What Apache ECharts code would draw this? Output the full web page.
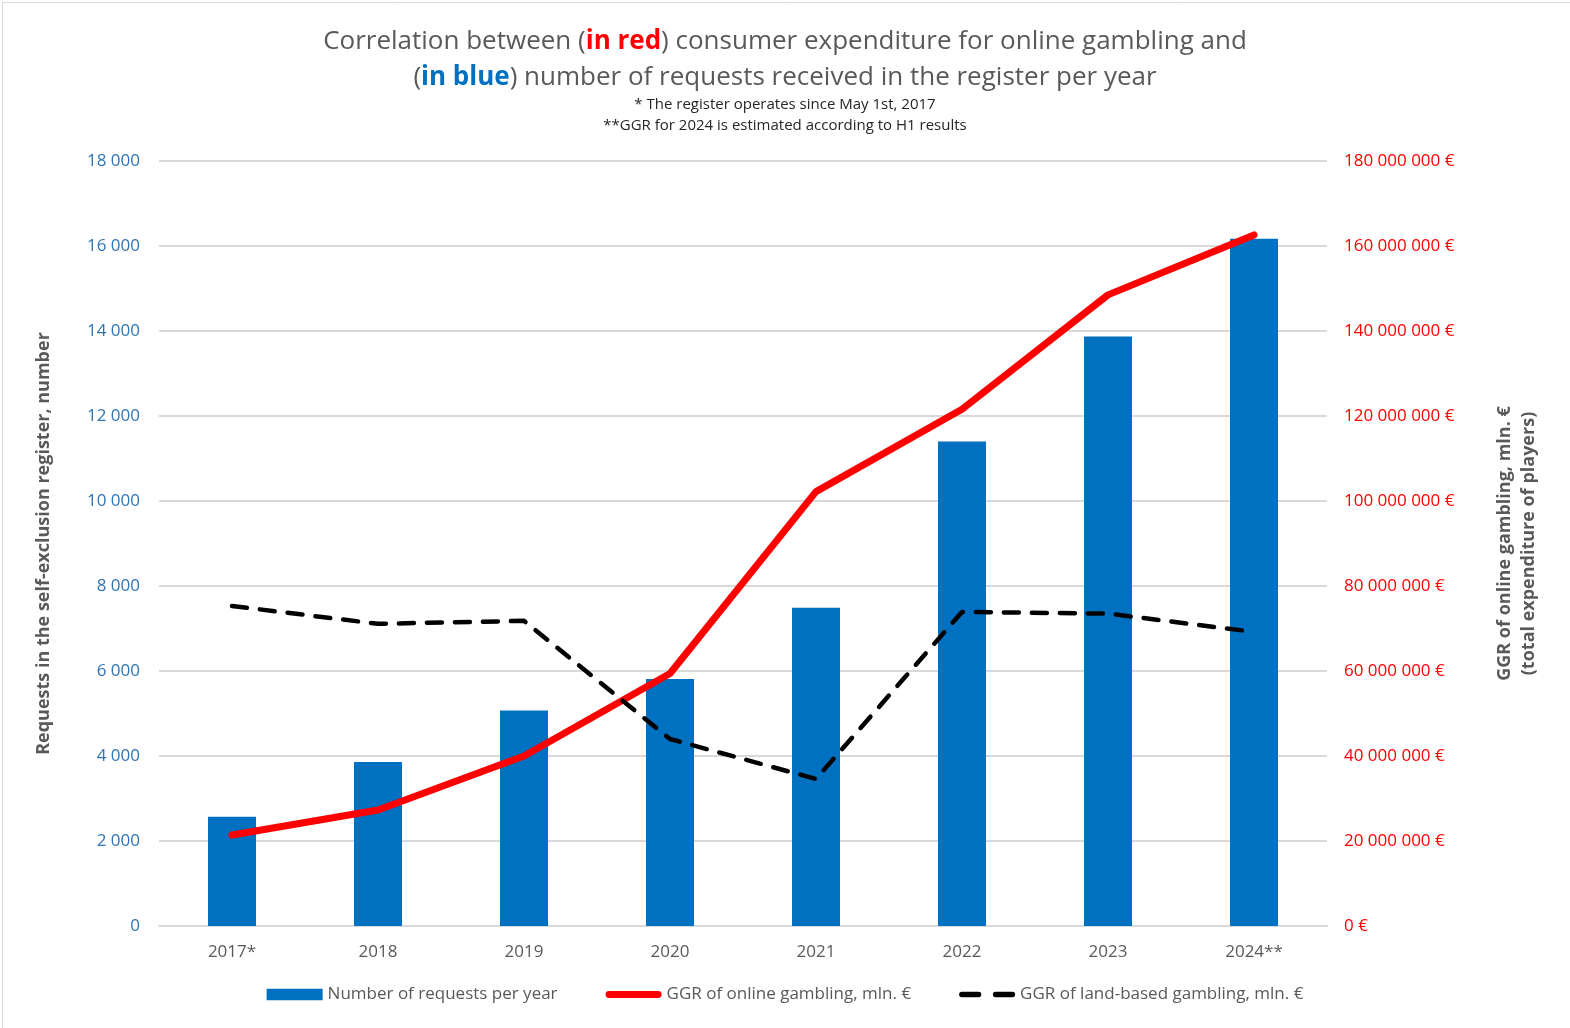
<!DOCTYPE html>
<html>
<head>
<meta charset="utf-8">
<script src="https://cdn.jsdelivr.net/npm/echarts@6/dist/echarts.min.js"></script>
<style>
html,body{margin:0;padding:0;background:#fff;}
#chart{width:1570px;height:1028px;}
</style>
</head>
<body>
<div id="chart"></div>
<script>
const categories = ['2017*','2018','2019','2020','2021','2022','2023','2024**'];
const requestsPerYear = [2570, 3860, 5070, 5810, 7490, 11400, 13870, 16170];
const onlineGGR = [21400000, 27300000, 40000000, 59400000, 102200000, 121600000, 148500000, 162600000];
const landBasedGGR = [75300000, 71100000, 71800000, 44000000, 34600000, 73900000, 73500000, 69200000];
const leftTicks = {min: 0, max: 18000, interval: 2000};
const rightTicks = {min: 0, max: 180000000, interval: 20000000};

const FONT = '"Open Sans",sans-serif';
function spaced(n){ return String(n).replace(/\B(?=(\d{3})+(?!\d))/g, ' '); }

const chart = echarts.init(document.getElementById('chart'));
chart.setOption({
  backgroundColor: '#fff',
  animation: false,
  graphic: [{
    type: 'rect', left: 0, top: 0, silent: true,
    shape: {x: 0.5, y: 0.5, width: 1569, height: 1027},
    style: {fill: 'none', stroke: '#d9d9d9', lineWidth: 1}
  }],
  title: {
    left: 'center', top: 19,
    text: 'Correlation between ({r|in red}) consumer expenditure for online gambling and\n({b|in blue}) number of requests received in the register per year',
    textStyle: {
      fontFamily: FONT, fontSize: 26, fontWeight: 'normal', color: '#595959', lineHeight: 36,
      rich: {
        r: {color: '#ff0000', fontWeight: 'bold', fontSize: 26, fontFamily: FONT},
        b: {color: '#0070c0', fontWeight: 'bold', fontSize: 26, fontFamily: FONT}
      }
    },
    subtext: '* The register operates since May 1st, 2017\n**GGR for 2024 is estimated according to H1 results',
    subtextStyle: {fontFamily: FONT, fontSize: 15, color: '#262626', lineHeight: 21},
    itemGap: -2
  },
  grid: {left: 159, right: 243, top: 161, bottom: 102},
  legend: {
    bottom: 20, left: 'center',
    itemWidth: 56, itemHeight: 12, itemGap: 48,
    textStyle: {fontFamily: FONT, fontSize: 17, color: '#595959', padding: [0,0,0,0]},
    data: [
      {name: 'Number of requests per year', icon: 'path://M0,0H54V11H0Z'},
      {name: 'GGR of online gambling, mln. €', icon: 'path://M3,0H53A3,3 0 0 1 53,7H3A3,3 0 0 1 3,0Z'},
      {name: 'GGR of land-based gambling, mln. €', icon: 'path://M2,0H18A2,2 0 0 1 18,5H2A2,2 0 0 1 2,0Z M34,0H50A2,2 0 0 1 50,5H34A2,2 0 0 1 34,0Z'}
    ]
  },
  xAxis: {
    type: 'category', data: categories,
    axisLine: {lineStyle: {color: '#d9d9d9', width: 2}},
    axisTick: {show: false},
    axisLabel: {fontFamily: FONT, fontSize: 17, color: '#595959', margin: 18}
  },
  yAxis: [
    {
      type: 'value', min: leftTicks.min, max: leftTicks.max, interval: leftTicks.interval,
      name: 'Requests in the self-exclusion register, number',
      nameLocation: 'middle', nameRotate: 90, nameGap: 106,
      nameTextStyle: {fontFamily: FONT, fontSize: 18, fontWeight: 'bold', color: '#595959'},
      axisLine: {show: false}, axisTick: {show: false},
      axisLabel: {fontFamily: FONT, fontSize: 17, color: '#2e75b6', margin: 19,
        formatter: v => spaced(v)},
      splitLine: {lineStyle: {color: '#d9d9d9', width: 2}}
    },
    {
      type: 'value', min: rightTicks.min, max: rightTicks.max, interval: rightTicks.interval,
      name: 'GGR of online gambling, mln. €\n(total expenditure of players)',
      nameLocation: 'middle', nameRotate: 90, nameGap: 166,
      nameTextStyle: {fontFamily: FONT, fontSize: 18, fontWeight: 'bold', color: '#595959', lineHeight: 24},
      axisLine: {show: false}, axisTick: {show: false},
      axisLabel: {fontFamily: FONT, fontSize: 17, color: '#ff0000', margin: 17,
        formatter: v => spaced(v) + ' €'},
      splitLine: {show: false}
    }
  ],
  series: [
    {
      name: 'Number of requests per year', type: 'bar', yAxisIndex: 0,
      data: requestsPerYear, barWidth: 48,
      itemStyle: {color: '#0070c0'}
    },
    {
      name: 'GGR of online gambling, mln. €', type: 'line', yAxisIndex: 1,
      data: onlineGGR, symbol: 'none',
      lineStyle: {color: '#ff0000', width: 7, cap: 'round', join: 'round'},
      itemStyle: {color: '#ff0000'}
    },
    {
      name: 'GGR of land-based gambling, mln. €', type: 'line', yAxisIndex: 1,
      data: landBasedGGR, symbol: 'none',
      lineStyle: {color: '#000000', width: 4.5, type: [15, 13], cap: 'round', join: 'round'},
      itemStyle: {color: '#000000'}
    }
  ]
});
</script>
</body>
</html>
